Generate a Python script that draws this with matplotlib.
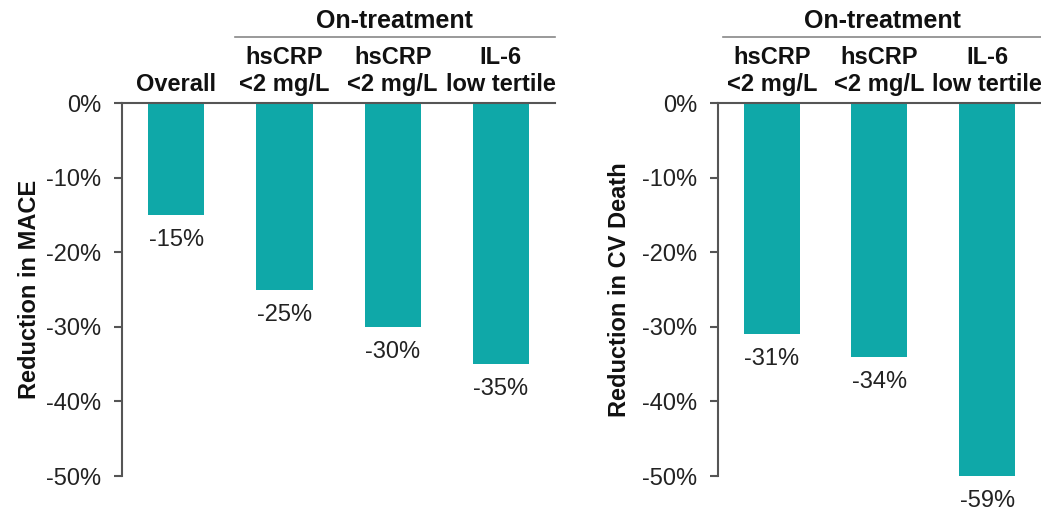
import matplotlib.pyplot as plt
from matplotlib.lines import Line2D
from matplotlib.transforms import ScaledTranslation
from matplotlib.ticker import FuncFormatter

plt.rcParams['font.family'] = ['Liberation Sans', 'DejaVu Sans']

# MACE panel
mace_labels = ["Overall", "hsCRP\n<2 mg/L", "hsCRP\n<2 mg/L", "IL-6\nlow tertile"]
mace_values = [-15, -25, -30, -35]

# CV death panel
cv_labels = ["hsCRP\n<2 mg/L", "hsCRP\n<2 mg/L", "IL-6\nlow tertile"]
cv_values = [-31, -34, -59]

yticks = [0, -10, -20, -30, -40, -50]
teal = "#0fa8a8"
axis_grey = "#555555"
fs = 17

fig = plt.figure(figsize=(10.41, 5.13), dpi=100)
ax1 = fig.add_axes([0.1172, 0.0721, 0.416, 0.7271])
ax2 = fig.add_axes([0.6897, 0.0721, 0.3103, 0.7271])


def draw_panel(ax, labels, values, ylabel, label_x, bracket):
    n = len(values)
    xs = list(range(n))
    ax.bar(xs, values, width=0.52, color=teal, zorder=2)
    ax.set_xlim(-0.5, n - 0.5)
    ax.set_ylim(-50, 0)
    ax.set_yticks(yticks)
    ax.yaxis.set_major_formatter(FuncFormatter(lambda v, p: f"{v:.0f}%"))
    ax.set_xticks([])
    for s in ["right", "bottom"]:
        ax.spines[s].set_visible(False)
    for s in ["left", "top"]:
        ax.spines[s].set_color(axis_grey)
        ax.spines[s].set_linewidth(1.5)
    ax.tick_params(axis="y", direction="out", length=6, width=1.5,
                   color=axis_grey, labelsize=fs, labelcolor="#222222", pad=9)
    ax.set_ylabel(ylabel, fontsize=fs, fontweight="bold", color="#111111")
    ax.yaxis.set_label_coords(label_x, 0.5)

    # value labels under each bar (clipped bars get their label at the axis floor)
    for x, v in zip(xs, values):
        ax.annotate(f"{v}%", xy=(x, max(v, -50)), xytext=(0, -18),
                    textcoords="offset points", ha="center", va="center",
                    fontsize=fs, color="#222222", annotation_clip=False)

    # category headers above the bars
    tr = ax.get_xaxis_transform()
    for x, lab in zip(xs, labels):
        lines = lab.split("\n")[::-1]
        for k, line in enumerate(lines):
            ax.annotate(line, xy=(x, 1), xycoords=tr, xytext=(0, 13 + 20 * k),
                        textcoords="offset points", ha="center", va="center",
                        fontsize=fs, fontweight="bold", color="#111111")

    # "On-treatment" group header with a rule underneath
    x0, x1 = bracket
    ax.annotate("On-treatment", xy=((x0 + x1) / 2, 1), xycoords=tr,
                xytext=(0, 59), textcoords="offset points", ha="center",
                va="center", fontsize=fs + 1, fontweight="bold", color="#111111")
    rule = Line2D([x0, x1], [1, 1], color="#888888", lw=1.2, clip_on=False)
    rule.set_transform(tr + ScaledTranslation(0, 47.5 / 72, fig.dpi_scale_trans))
    ax.add_line(rule)


draw_panel(ax1, mace_labels, mace_values, "Reduction in MACE", -0.186, (0.54, 3.5))
draw_panel(ax2, cv_labels, cv_values, "Reduction in CV Death", -0.268, (-0.45, 2.5))

fig.savefig("out.png", dpi=100)
